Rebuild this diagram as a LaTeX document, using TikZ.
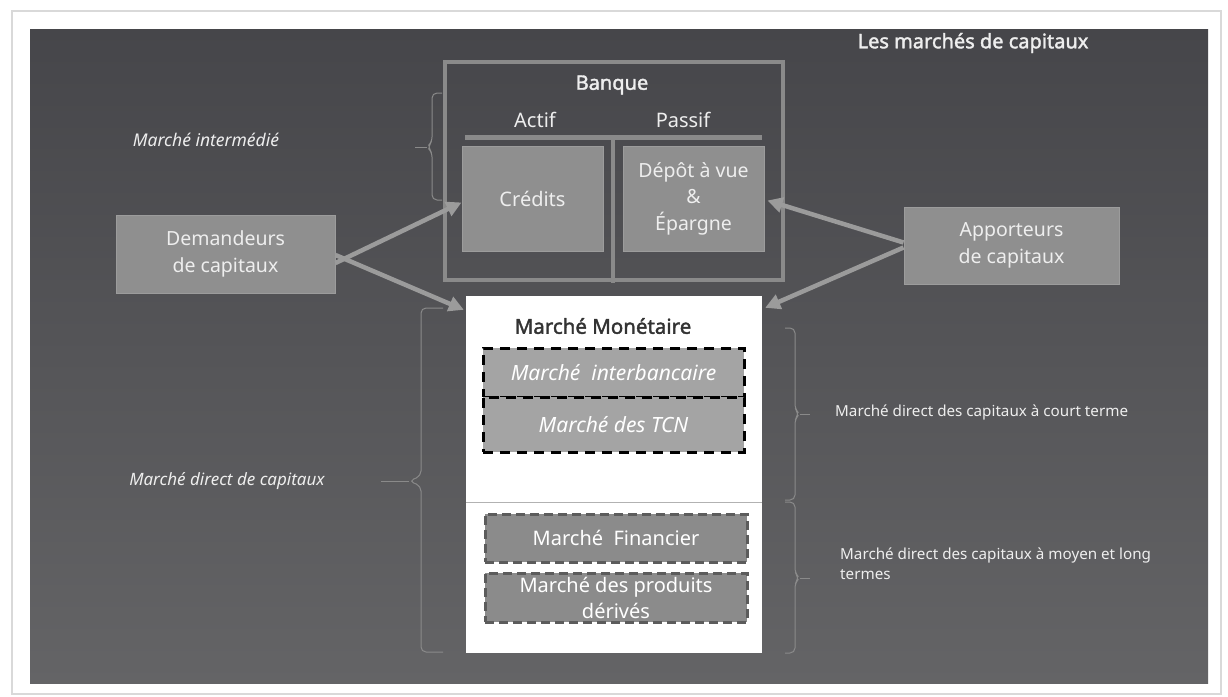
\documentclass[tikz,border=0pt]{standalone}
\usepackage{fontspec}
\setmainfont{Noto Sans}[AutoFakeBold=1.8]
\usetikzlibrary{arrows.meta}

\definecolor{slidetop}{HTML}{46464A}
\definecolor{slidebot}{HTML}{646466}
\definecolor{boxfill}{HTML}{8F8F8F}
\definecolor{boxedge}{HTML}{9C9C9C}
\definecolor{boxtext}{HTML}{EEEEEE}
\definecolor{framegray}{HTML}{8A8A8A}
\definecolor{arrowgray}{HTML}{9B9B9B}
\definecolor{lightdash}{HTML}{A4A4A4}
\definecolor{darkdash}{HTML}{8B8B8B}
\definecolor{dashedge}{HTML}{5C5C5C}

\tikzset{
  greybox/.style={draw=boxedge, fill=boxfill, line width=1pt, text=boxtext,
    align=center, inner sep=0pt},
  mmbox/.style={draw=black, fill=lightdash, line width=3pt, dash pattern=on 10pt off 7pt,
    text=white, inner sep=0pt, minimum width=261pt},
  mfbox/.style={draw=dashedge, fill=darkdash, line width=3pt, dash pattern=on 9pt off 5pt,
    text=white, align=center, inner sep=0pt, minimum width=262pt},
  arr/.style={draw=arrowgray, line width=4.5pt, -{Triangle[length=15pt,width=15pt]}},
  brk/.style={draw=framegray, line width=1pt, rounded corners=5pt},
  lbl/.style={text=boxtext, inner sep=0pt}
}

% square brace: base x, middle x, tip x, top y, tip y, bottom y
\newcommand{\sidebrk}[6]{%
  \draw[brk] (#1,#4) -- (#2,#4) -- (#2,{#5-5}) -- ({#2+0.3*(#3-#2)},#5) -- (#2,{#5+5}) -- (#2,#6) -- (#1,#6);
  \draw[brk] ({#2+0.3*(#3-#2)},#5) -- (#3,#5);}

\begin{document}
\begin{tikzpicture}[x=1pt,y=-1pt]
\useasboundingbox (0,0) rectangle (1228,696);
% ---- frame and slide ----
\fill[white] (0,0) rectangle (1228,696);
\draw[gray!30, line width=1.5pt] (12,11) rectangle (1221,694);
\shade[top color=slidetop, bottom color=slidebot] (30,29) rectangle (1208,683);
\node[lbl, font=\bfseries\fontsize{20}{24}\selectfont] (title) at (973,43) {Les marchés de capitaux};

% ---- bank ----
\node[draw=framegray, line width=4pt, minimum width=338pt, minimum height=218pt, inner sep=0pt] (bq) at (614,171) {};
\node[lbl, font=\bfseries\fontsize{20}{24}\selectfont] (bqtxt) at (612,85) {Banque};
\node[lbl, font=\fontsize{20}{24}\selectfont] (actif) at (535,120) {Actif};
\node[lbl, font=\fontsize{20}{24}\selectfont] (passif) at (683,120) {Passif};
\coordinate (barL) at (465,137);
\coordinate (barR) at (762,137);
\coordinate (barM) at (613,137);
\coordinate (barB) at (613,283);
\draw[framegray, line width=5pt] (barL) -- (barR);
\draw[framegray, line width=4pt] (barM) -- (barB);
\node[greybox, minimum width=141pt, minimum height=105pt, font=\fontsize{20}{27}\selectfont] (cr) at (532.5,198.5) {Crédits};
\node[greybox, minimum width=141pt, minimum height=105pt, font=\fontsize{19.5}{26.5}\selectfont] (dp) at (693.5,198.5) {Dépôt à vue\\\&\\Épargne};

% ---- agents ----
\node[greybox, minimum width=219pt, minimum height=78pt, font=\fontsize{19.5}{27}\selectfont] (dm) at (225.5,254) {Demandeurs\\de capitaux};
\node[greybox, minimum width=215pt, minimum height=77pt, font=\fontsize{19.5}{27}\selectfont] (ap) at (1011.5,245.5) {Apporteurs\\de capitaux};

% ---- direct market ----
\node[fill=white, minimum width=296pt, minimum height=357pt, inner sep=0pt] (dir) at (614,474.5) {};
\node[text=black!80, inner sep=0pt, font=\bfseries\fontsize{20.5}{24}\selectfont] (mmtxt) at (603,326) {Marché Monétaire};
\node[mmbox, minimum height=49pt, font=\itshape\fontsize{21}{24}\selectfont] (ib) at (613.5,372.5) {Marché\ \ interbancaire};
\node[mmbox, minimum height=55pt, font=\itshape\fontsize{21}{24}\selectfont] (tcn) at (613.5,424.5) {Marché des TCN};
\coordinate (sepL) at (466,502);
\coordinate (sepR) at (762,502);
\draw[gray!60, line width=1pt] (sepL) -- (sepR);
\node[mfbox, minimum height=48pt, font=\fontsize{20}{26}\selectfont] (fin) at (616,538) {Marché\ \ Financier};
\node[mfbox, minimum height=49pt, font=\fontsize{20}{26}\selectfont] (pd) at (616,597.5) {Marché des produits\\dérivés};

% ---- arrows ----
\draw[arr] ([yshift=-9pt]dm.east) -- ([yshift=-4pt]cr.west);
\draw[arr] ([yshift=-1pt]dm.east) -- ([xshift=-2pt,yshift=-14pt]dir.north west);
\draw[arr] ([yshift=3pt]ap.west) -- ([xshift=3pt,yshift=-2pt]dp.east);
\draw[arr] ([yshift=-2pt]ap.west) -- ([xshift=3pt,yshift=-12pt]dir.north east);

% ---- braces and labels ----
\sidebrk{442}{432}{415}{93}{147}{200}
\node[lbl, font=\bfseries\itshape\fontsize{17.5}{20}\selectfont] (imtxt) at (206,140) {Marché intermédié};
\sidebrk{443}{421}{381}{308}{481}{652}
\node[lbl, font=\itshape\fontsize{17}{20}\selectfont] (mdtxt) at (227,481) {Marché direct de capitaux};
\sidebrk{785}{795}{810}{328}{414}{500}
\node[lbl, anchor=west, font=\fontsize{15.2}{20}\selectfont] (cttxt) at (835,412) {Marché direct des capitaux à court terme};
\sidebrk{785}{795}{810}{502}{578}{653}
\node[lbl, anchor=north west, align=left, font=\fontsize{15.2}{20}\selectfont] (lttxt) at (840,548) {Marché direct des capitaux à moyen et long\\termes};
\end{tikzpicture}
\end{document}
